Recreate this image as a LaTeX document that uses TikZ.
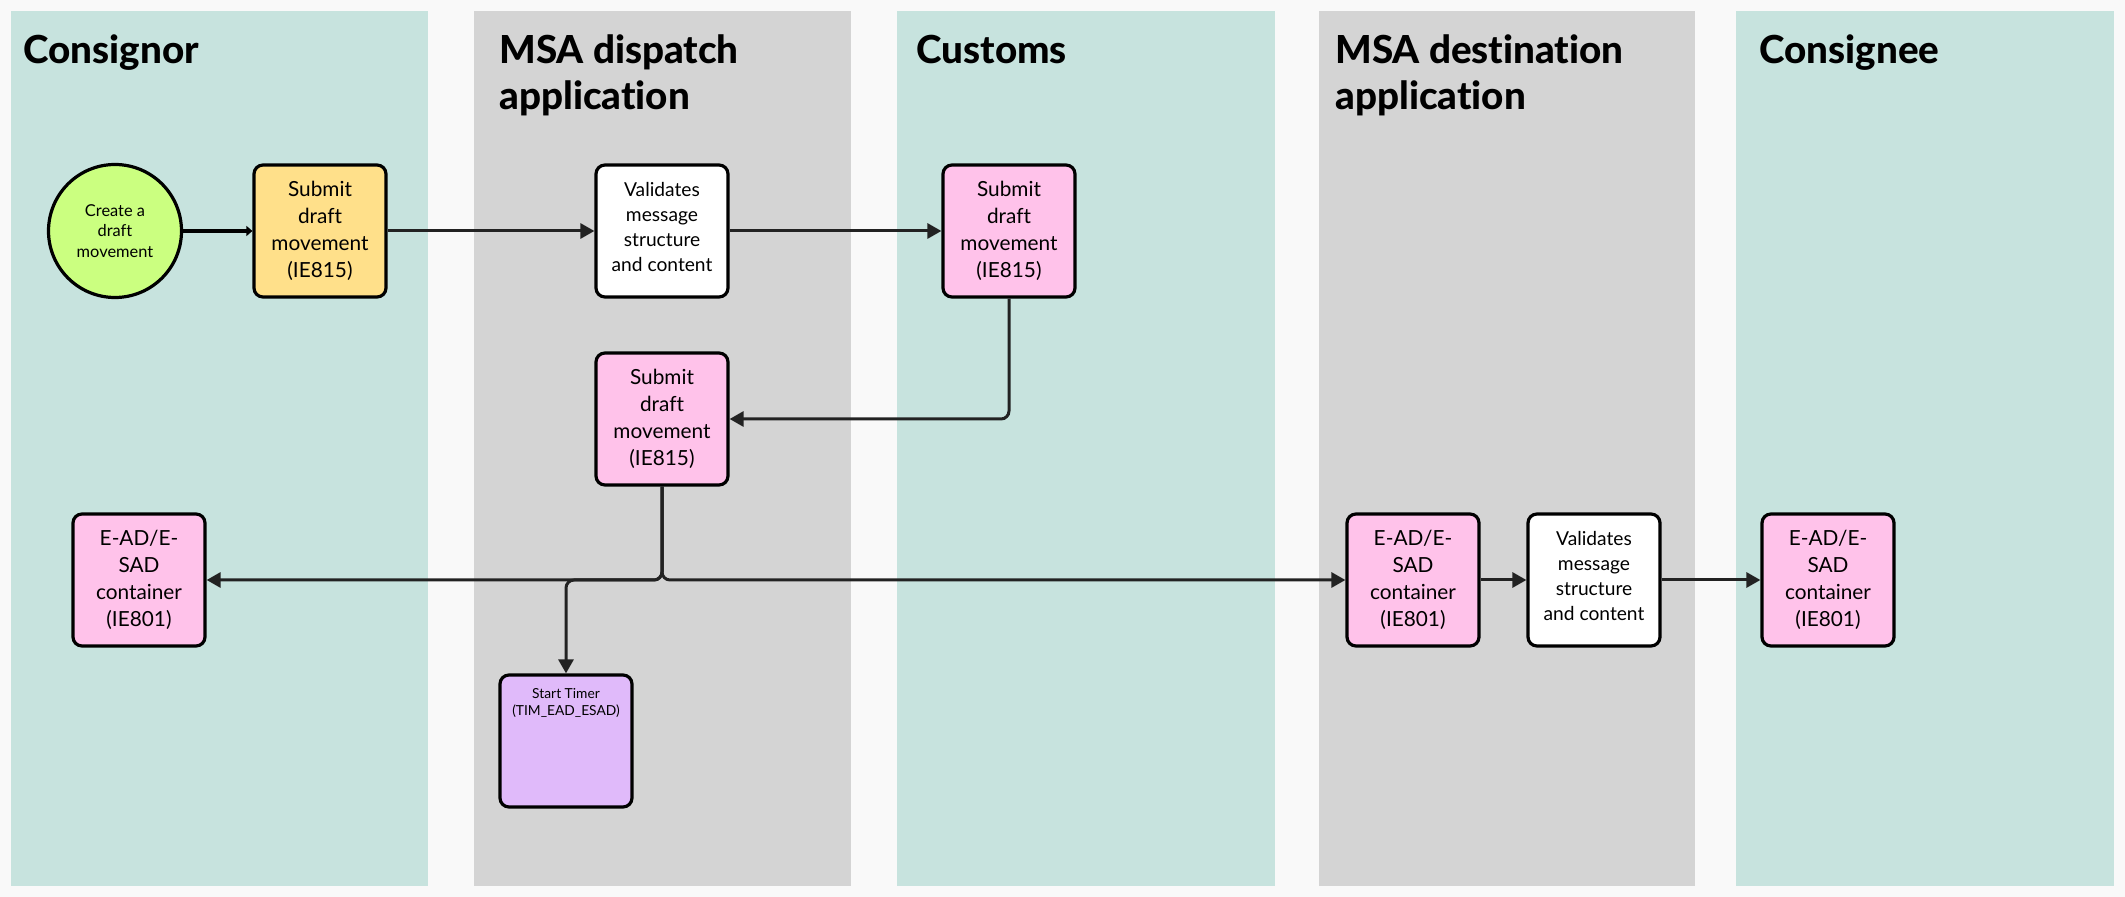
\documentclass[tikz,border=0pt]{standalone}
\usepackage{fontspec}
\setmainfont{Lato}[Ligatures=NoCommon]
\newfontfamily\headfont{Lato Heavy}[Ligatures=NoCommon]
\usetikzlibrary{arrows.meta}
\definecolor{pagebg}{HTML}{F9F9F9}
\definecolor{laneteal}{HTML}{C7E3DE}
\definecolor{lanegrey}{HTML}{D4D4D4}
\definecolor{stepyellow}{HTML}{FFE08A}
\definecolor{steppink}{HTML}{FFC2EA}
\definecolor{steppurple}{HTML}{E0BAFA}
\definecolor{startgreen}{HTML}{CBFF80}
\definecolor{ink}{HTML}{222222}
\begin{document}
\begin{tikzpicture}[x=0.5pt,y=-0.5pt,
  % base anchor of a multi-line heading sits on its last line
  lanetitle/.style={anchor=base west, inner sep=0, align=left,
    font=\fontsize{19.3}{23}\selectfont\headfont},
  stepbox/.style={draw=black, line width=1.6pt, rounded corners=4.5pt,
    minimum width=66pt, minimum height=66pt, inner sep=0, align=center,
    font=\fontsize{10.4}{13.5}\selectfont},
  checklbl/.style={anchor=center, inner sep=0, yshift=2pt, align=center,
    font=\fontsize{9.6}{12.4}\selectfont},
  checkbox/.style={stepbox, fill=white, label={[checklbl]center:#1}},
  startnode/.style={circle, draw=black, line width=1.6pt, fill=startgreen,
    minimum size=66.5pt, inner sep=0, align=center,
    font=\fontsize{8.2}{10.3}\selectfont},
  timerlbl/.style={anchor=north, inner sep=0, yshift=-7.5pt, align=center,
    font=\fontsize{6.9}{8.5}\selectfont},
  flow/.style={draw=ink, line width=1.5pt, rounded corners=4pt,
    -{Triangle[length=7pt,width=7.5pt]}},
]
% page and swimlanes
\fill[pagebg] (0,0) rectangle (2125,897);
\useasboundingbox (0,0) rectangle (2125,897);
\fill[laneteal] (11,11) rectangle (428,886);
\fill[lanegrey] (474,11) rectangle (851,886);
\fill[laneteal] (897,11) rectangle (1275,886);
\fill[lanegrey] (1319,11) rectangle (1695,886);
\fill[laneteal] (1736,11) rectangle (2114,886);

% lane headings
\node[lanetitle] (tConsignor) at (23,64) {Consignor};
\node[lanetitle] (tDispatch) at (499,110) {MSA dispatch\\application};
\node[lanetitle] (tCustoms) at (916,64) {Customs};
\node[lanetitle] (tDest) at (1335,110) {MSA destination\\application};
\node[lanetitle] (tConsignee) at (1759,64) {Consignee};

% steps
\node[startnode] (start) at (115,231) {Create a\\draft\\movement};
\node[stepbox, fill=stepyellow] (sub1) at (320,231) {Submit\\draft\\movement\\(IE815)};
\node[checkbox={Validates\\message\\structure\\and content}] (val1) at (662,231) {};
\node[stepbox, fill=steppink] (sub2) at (1009,231) {Submit\\draft\\movement\\(IE815)};
\node[stepbox, fill=steppink] (sub3) at (662,419) {Submit\\draft\\movement\\(IE815)};
\node[stepbox, fill=steppink] (ead1) at (139,580) {E-AD/E-\\SAD\\container\\(IE801)};
\node[stepbox, fill=steppurple,
  label={[timerlbl]north:Start Timer\\(TIM\_EAD\_ESAD)}] (timer) at (566,741) {};
\node[stepbox, fill=steppink] (ead2) at (1413,580) {E-AD/E-\\SAD\\container\\(IE801)};
\node[checkbox={Validates\\message\\structure\\and content}] (val2) at (1594,580) {};
\node[stepbox, fill=steppink] (ead3) at (1828,580) {E-AD/E-\\SAD\\container\\(IE801)};

% connectors
\draw[flow, draw=black, line width=1.6pt, -{Triangle[length=3pt,width=5pt]}] (start) -- (sub1);
\draw[flow] (sub1) -- (val1);
\draw[flow] (val1) -- (sub2);
\draw[flow] (sub2.south) |- (sub3.east);
\draw[flow] (sub3.south) |- (ead1.east);
\draw[flow] (sub3.south) |- (ead2.west);
\draw[flow] (sub3.south) |- (timer.north |- ead1.east) -- (timer.north);
\draw[flow] (ead2) -- (val2);
\draw[flow] (val2) -- (ead3);
\end{tikzpicture}
\end{document}
